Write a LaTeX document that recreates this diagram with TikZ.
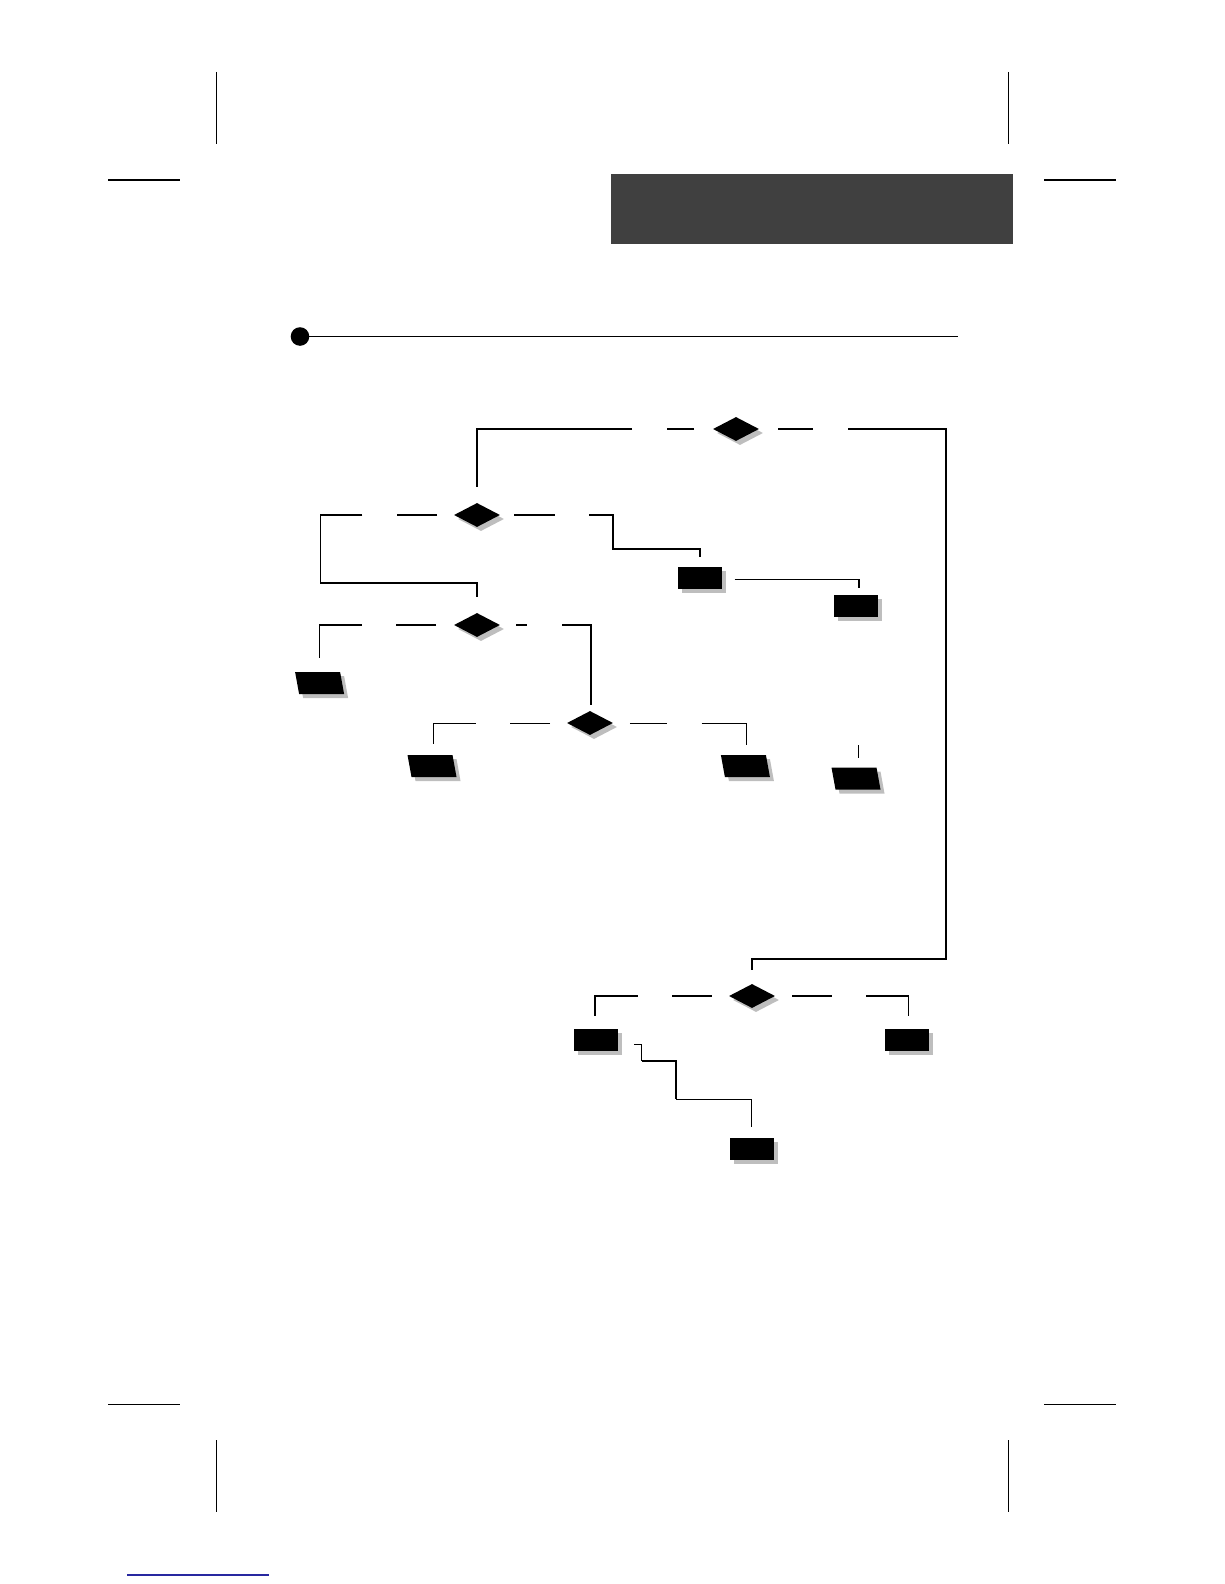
\documentclass[tikz,border=0pt]{standalone}
\usetikzlibrary{shapes.geometric,shadows}
\definecolor{shadowgray}{RGB}{190,190,190}
\definecolor{bargray}{RGB}{64,64,64}
\definecolor{linkblue}{RGB}{40,40,160}
\begin{document}
\begin{tikzpicture}[x=1pt,y=-1pt,
  shadowed/.style={drop shadow={shadow xshift=4pt,shadow yshift=-4pt,fill=shadowgray,opacity=1}},
  dia/.style={diamond,fill=black,inner sep=0pt,minimum width=46pt,minimum height=24pt,shadowed},
  boxnode/.style={rectangle,fill=black,inner sep=0pt,minimum width=44pt,minimum height=22pt,shadowed},
  parapic/.pic={
    \fill[shadowgray] (-20.5,-7) -- (24.5,-7) -- (28.5,15) -- (-16.5,15) -- cycle;
    \fill[black] (-24.5,-11) -- (20.5,-11) -- (24.5,11) -- (-20.5,11) -- cycle;
  },
  conthin/.style={line width=1.2pt},
  conthick/.style={line width=1.8pt},
  crop/.style={line width=1.3pt}]
\useasboundingbox (0,0) rectangle (1224,1584);

% crop marks
\draw[crop] (216.3,72) -- (216.3,143.5);
\draw[crop] (108.3,180) -- (180,180);
\draw[crop] (1008.3,72) -- (1008.3,143.5);
\draw[crop] (1044,180) -- (1116,180);
\draw[crop] (108.3,1404.3) -- (180,1404.3);
\draw[crop] (216.3,1440) -- (216.3,1511.7);
\draw[crop] (1044,1404.3) -- (1116,1404.3);
\draw[crop] (1008.3,1440) -- (1008.3,1511.7);

% header bar
\fill[bargray] (611,174) rectangle (1013,244);

% section rule
\fill[black] (300,336.5) circle (9.3);
\draw[line width=1.3pt] (300,336.2) -- (957.5,336.2);

% bottom link line
\draw[linkblue,line width=1.2pt] (127,1575) -- (269,1575);

% decision nodes
\node[dia] (d1) at (736,429) {};
\node[dia] (d2) at (477,515) {};
\node[dia] (d3) at (477,625) {};
\node[dia] (d4) at (590,723) {};
\node[dia] (d5) at (752,996) {};

% process boxes
\node[boxnode] (b1) at (700,578) {};
\node[boxnode] (b2) at (856,606) {};
\node[boxnode] (b3) at (596,1040) {};
\node[boxnode] (b4) at (907,1040) {};
\node[boxnode] (b5) at (752,1148.5) {};

% parallelograms
\coordinate (p1) at (319.6,683);
\coordinate (p2) at (432,766);
\coordinate (p3) at (745.4,766);
\coordinate (p4) at (856,778.5);
\pic at (p1) {parapic};
\pic at (p2) {parapic};
\pic at (p3) {parapic};
\pic at (p4) {parapic};

% connectors from d1
\draw[conthin] (694,429) -- (667,429);
\draw[conthin] (632,429) -| (477,487);
\draw[conthin] (778,429) -- (812.5,429);
\draw[conthick] (848,429) -| (945.6,959.3) -| (752,970);

% connectors from d2
\draw[conthin] (437,515) -- (397,515);
\draw[conthin] (362.4,515) -| (320.3,582.7);
\draw[conthick] (320.3,582.7) -| (477,597);
\draw[conthick] (514,515) -- (554.5,515);
\draw[conthick] (589,515) -| (612.6,549) -| (700,556.7);
\draw[conthin] (734.5,579.3) -| (859,588.3);

% connectors from d3
\draw[conthin] (436,625) -- (396,625);
\draw[conthin] (361.8,625) -| (319.5,658.3);
\draw[conthin] (516.4,625) -- (527,625);
\draw[conthick] (562,625) -| (591,705);

% connectors from d4
\draw[conthin] (550,723.3) -- (510,723.3);
\draw[conthin] (475.6,723.3) -| (433.4,744);
\draw[conthin] (629.8,723.3) -- (667.3,723.3);
\draw[conthin] (701.7,723.3) -| (746.4,745);
\draw[conthin] (858.3,745) -- (858.3,757.7);

% connectors from d5
\draw[conthin] (711.7,996) -- (672.3,996);
\draw[conthin] (637.7,996) -| (595,1015.7);
\draw[conthin] (792.3,996) -- (831.7,996);
\draw[conthin] (866,996) -| (908.3,1015.7);
\draw[conthin] (634.3,1044.3) -| (641.7,1060.7);
\draw[conthick] (641.7,1060.7) -| (676,1099.3);
\draw[conthin] (676,1099.3) -| (751.7,1127.3);
\end{tikzpicture}
\end{document}
